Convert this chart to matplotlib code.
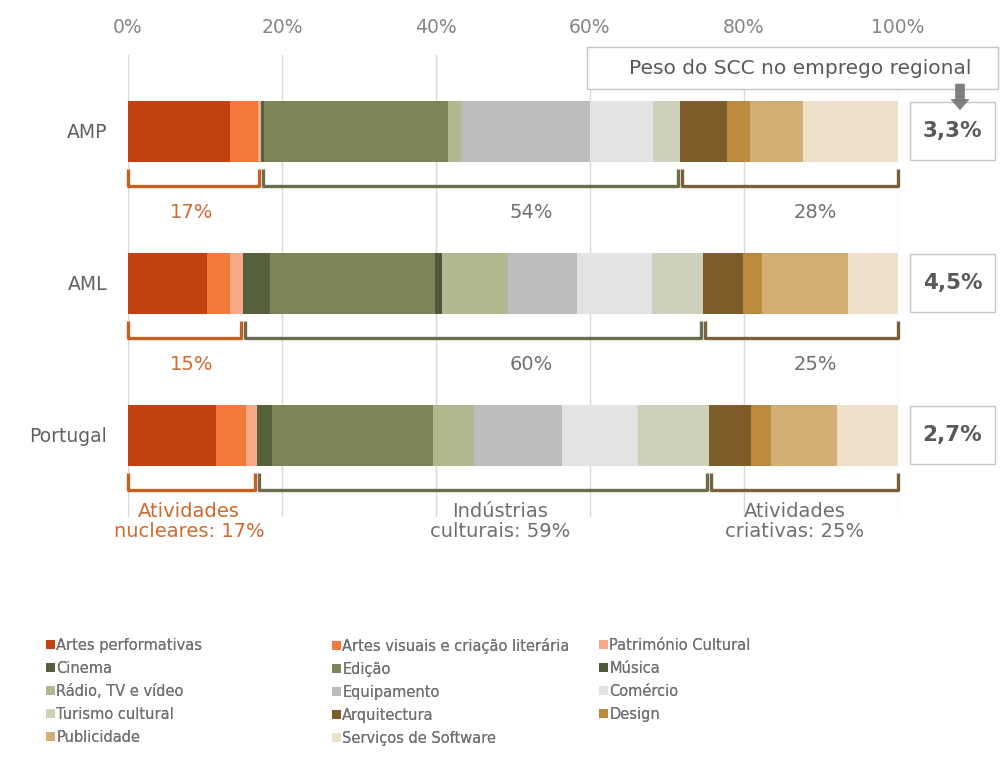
import matplotlib
matplotlib.use("Agg")
import matplotlib.pyplot as plt
import numpy as np
from matplotlib.patches import Rectangle

# ---------------- data ----------------
regions = ["AMP", "AML", "Portugal"]
sectors = ["Artes performativas", "Artes visuais e criação literária", "Património Cultural",
           "Cinema", "Edição", "Música",
           "Rádio, TV e vídeo", "Equipamento", "Comércio",
           "Turismo cultural", "Arquitectura", "Design",
           "Publicidade", "Serviços de Software"]
amp = [13.2, 3.7, 0.4, 0.4, 23.8, 0.0, 1.7, 16.8, 8.2, 3.5, 6.1, 3.0, 6.9, 12.3]
aml = [10.3, 2.9, 1.7, 3.5, 21.5, 0.9, 8.6, 8.9, 9.8, 6.6, 5.2, 2.4, 11.2, 6.5]
portugal = [11.4, 3.9, 1.5, 1.9, 20.9, 0.0, 5.3, 11.5, 9.8, 9.3, 5.4, 2.6, 8.6, 7.9]
colors = ["#c1440e", "#f37a3c", "#f8ab8a",
          "#56603c", "#7d8458", "#4f5a3a",
          "#b3b790", "#bdbdbd", "#e3e3e3",
          "#cdd1b9", "#7d5c2a", "#bb8a3c",
          "#d3ae74", "#eee0c9"]
group_sizes = [3, 7, 4]  # nuclear, cultural, creative
group_labels = [["17%", "54%", "28%"],
                ["15%", "60%", "25%"],
                ["Atividades\nnucleares: 17%", "Indústrias\nculturais: 59%", "Atividades\ncriativas: 25%"]]
scc_weight = ["3,3%", "4,5%", "2,7%"]
xticks = [0, 20, 40, 60, 80, 100]
xticklabels = ["0%", "20%", "40%", "60%", "80%", "100%"]

values = np.array([amp, aml, portugal])

# ---------------- figure ----------------
W, H = 1001, 780
fig = plt.figure(figsize=(W / 100, H / 100), dpi=100)
plt.rcParams['font.family'] = ['DejaVu Sans']

def fx(px):
    return px / W

def fy(py):
    return 1 - py / H

ax_l, ax_r, ax_t, ax_b = 128, 898, 55, 517
ax = fig.add_axes([fx(ax_l), fy(ax_b), (ax_r - ax_l) / W, (ax_b - ax_t) / H])
ax.set_xlim(0, 100)
ax.set_ylim(ax_b, ax_t)  # data y = pixel y
for s in ax.spines.values():
    s.set_visible(False)

ycent = [131, 283, 435]
bar_h = 61

ax.set_xticks(xticks)
ax.set_xticklabels(xticklabels, color="#858585", fontsize=13.5)
ax.xaxis.tick_top()
ax.tick_params(axis="x", length=0, pad=13)
ax.grid(axis="x", color="#d9d9d9", lw=1, zorder=0)
ax.set_axisbelow(True)

ax.set_yticks(ycent)
ax.set_yticklabels(regions, color="#606060", fontsize=13.5)
ax.tick_params(axis="y", length=0, pad=15)

# bars
handles = []
left = np.zeros(len(regions))
for i, name in enumerate(sectors):
    bc = ax.barh(ycent, values[:, i], left=left, height=bar_h, color=colors[i],
                 label=name, zorder=2, linewidth=0)
    handles.append(bc)
    left += values[:, i]

# braces
brace_cols = ["#c8601e", "#6b6b50", "#79603a"]
label_cols = ["#cc6a30", "#707070", "#707070"]
label_x = [(192 - 128) / 7.7, (531 - 128) / 7.7, (815 - 128) / 7.7]
label_x_pt = [(189 - 128) / 7.7, (500 - 128) / 7.7, (795 - 128) / 7.7]
bounds = np.cumsum([0] + group_sizes)
for r in range(len(regions)):
    cum = np.concatenate([[0], np.cumsum(values[r])])
    ybot = ycent[r] + bar_h / 2
    y1, y2 = ybot + 7, ybot + 24
    for g in range(3):
        x0 = cum[bounds[g]]
        x1 = cum[bounds[g + 1]]
        g0 = 0.25 if g > 0 else 0
        g1 = 0.25 if g < 2 else 0
        ax.plot([x0 + g0, x0 + g0, x1 - g1, x1 - g1], [y1, y2, y2, y1],
                color=brace_cols[g], lw=2.4, solid_joinstyle="round",
                solid_capstyle="butt", clip_on=False, zorder=3)
        if r < 2:
            ax.text(label_x[g], y2 + 27, group_labels[r][g], ha="center", va="center",
                    color=label_cols[g], fontsize=14, clip_on=False)
        else:
            ax.text(label_x_pt[g], y2 + 32, group_labels[r][g], ha="center", va="center",
                    color=label_cols[g], fontsize=14, linespacing=1.05, clip_on=False)

# right boxes with SCC weight
bx0 = (910 - 128) / 7.7
bx1 = (995 - 128) / 7.7
for r in range(len(regions)):
    ax.add_patch(Rectangle((bx0, ycent[r] - 29), bx1 - bx0, 58, facecolor="white",
                           edgecolor="#c3c3c3", lw=1, clip_on=False, zorder=4))
    ax.text((bx0 + bx1) / 2, ycent[r], scc_weight[r], ha="center", va="center",
            fontsize=15.5, fontweight="bold", color="#595959", clip_on=False, zorder=5)

# top header box
tx0 = (587 - 128) / 7.7
tx1 = (998 - 128) / 7.7
ax.add_patch(Rectangle((tx0, 47), tx1 - tx0, 42, facecolor="white",
                       edgecolor="#c3c3c3", lw=1, clip_on=False, zorder=4))
ax.text((tx0 + tx1) / 2 + 1, 69, "Peso do SCC no emprego regional", ha="center", va="center",
        fontsize=14.5, color="#595959", clip_on=False, zorder=5)
ax.annotate("", xy=((960 - 128) / 7.7, 113), xytext=((960 - 128) / 7.7, 81),
            arrowprops=dict(arrowstyle="simple,head_width=1.4,head_length=0.8,tail_width=0.7",
                            color="#7f7f7f", lw=0), annotation_clip=False, zorder=6)

# legend: three columns laid out row-wise
col_x = [46, 332, 599]
for c in range(3):
    idx = list(range(c, len(sectors), 3))
    leg = fig.legend([handles[i] for i in idx], [sectors[i] for i in idx],
                     loc="upper left", bbox_to_anchor=(fx(col_x[c]), fy(638)),
                     frameon=False, fontsize=10.5, handlelength=0.6, handleheight=0.6,
                     handletextpad=0.1, labelspacing=0.54, borderaxespad=0, borderpad=0)
    for t in leg.get_texts():
        t.set_color("#707070")
    fig.add_artist(leg)

fig.savefig("out.png", dpi=100, facecolor="white")
